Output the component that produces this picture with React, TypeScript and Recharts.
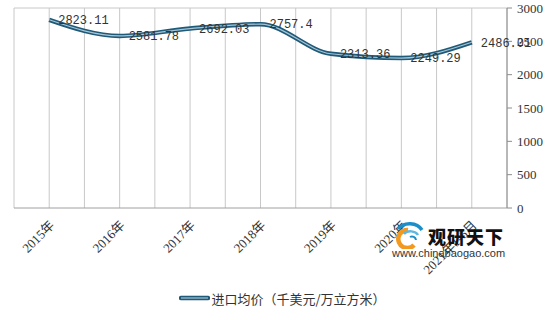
import { LineChart, Line, XAxis, YAxis, CartesianGrid, Legend, LabelList } from "recharts";

const years = ["2015年", "2016年", "2017年", "2018年", "2019年", "2020年", "2021年1-6月"];
const importPrice = [2823.11, 2581.78, 2692.03, 2757.4, 2313.36, 2249.29, 2486.01];
const yTicks = [0, 500, 1000, 1500, 2000, 2500, 3000];
const seriesName = "进口均价（千美元/万立方米）";

const data = years.map((year, i) => ({ year, price: importPrice[i] }));

const DARK = "#1f5a78";
const LIGHT = "#a7c5d6";
const SERIF = '"Liberation Serif", "Noto Sans CJK SC", serif';

function YearTick({ x, y, payload }: any) {
  return (
    <text
      transform={`translate(${x + 6},${y + 10}) rotate(-45)`}
      textAnchor="end"
      fontSize={13}
      fontFamily={SERIF}
      fill="#333"
    >
      {payload.value}
    </text>
  );
}

function LegendBox() {
  return (
    <div
      style={{
        display: "flex",
        justifyContent: "center",
        alignItems: "center",
        height: 24,
        fontFamily: '"Noto Sans CJK SC", sans-serif',
        fontSize: 13,
        color: "#333",
      }}
    >
      <svg width={31} height={8} style={{ marginRight: 1 }}>
        <line x1={2} y1={4} x2={29} y2={4} stroke={DARK} strokeWidth={4.5} strokeLinecap="round" />
        <line x1={2} y1={4} x2={29} y2={4} stroke={LIGHT} strokeWidth={1.2} />
      </svg>
      <span>{seriesName}</span>
    </div>
  );
}

// site watermark over the lower right of the plot
function Watermark() {
  return (
    <div style={{ position: "absolute", left: 392, top: 219, width: 120, pointerEvents: "none" }}>
      <svg width={30} height={28} style={{ position: "absolute", left: 2, top: 2 }}>
        <path d="M14 9 A9 9 0 1 0 20 24" fill="none" stroke="#f29a1f" strokeWidth={4.5} />
        <path d="M4 8 A14 12 0 0 1 28 9" fill="none" stroke="#1c8fc9" strokeWidth={3.5} />
        <path d="M10 13 A8 6 0 0 1 24 14" fill="none" stroke="#5fb7e0" strokeWidth={2.5} />
        <path d="M16 16 A4 4 0 0 1 22 19" fill="none" stroke="#1c8fc9" strokeWidth={2} />
      </svg>
      <div
        style={{
          position: "absolute",
          left: 36,
          top: 4,
          fontFamily: '"Noto Sans CJK SC", sans-serif',
          fontWeight: 900,
          fontSize: 18,
          letterSpacing: 1,
          color: "#111",
          whiteSpace: "nowrap",
        }}
      >
        观研天下
      </div>
      <div
        style={{
          position: "absolute",
          left: 0,
          top: 28,
          fontFamily: '"Liberation Sans", Arial, sans-serif',
          fontSize: 11,
          color: "#333",
          whiteSpace: "nowrap",
        }}
      >
        www.chinabaogao.com
      </div>
    </div>
  );
}

export default function App() {
  return (
    <div style={{ position: "absolute", left: 0, top: 0, width: 551, height: 320, background: "#fff" }}>
      <LineChart width={551} height={320} data={data} margin={{ top: 8, right: 0, left: 14, bottom: 10 }}>
        <CartesianGrid
          stroke="#c8c8c8"
          verticalCoordinatesGenerator={({ offset }: any) =>
            Array.from({ length: years.length * 2 + 1 }, (_, i) => offset.left + (i * offset.width) / (years.length * 2))
          }
          horizontalCoordinatesGenerator={({ offset }: any) => [offset.top]}
        />
        <XAxis
          dataKey="year"
          scale="band"
          interval={0}
          height={78}
          tickLine={false}
          axisLine={{ stroke: "#a0a0a0" }}
          tick={<YearTick />}
        />
        <YAxis
          orientation="right"
          width={44}
          domain={[0, 3000]}
          ticks={yTicks}
          tickSize={5}
          tickMargin={5}
          axisLine={{ stroke: "#8c8c8c" }}
          tickLine={{ stroke: "#8c8c8c" }}
          tick={{ fontSize: 13, fontFamily: SERIF, fill: "#333", textAnchor: "start" }}
        />
        <Legend verticalAlign="bottom" content={<LegendBox />} wrapperStyle={{ height: 24 }} />
        <Line
          type="monotone"
          dataKey="price"
          stroke={DARK}
          strokeWidth={4.5}
          dot={false}
          legendType="none"
          isAnimationActive={false}
        />
        <Line
          type="monotone"
          dataKey="price"
          name={seriesName}
          stroke={LIGHT}
          strokeWidth={1.2}
          dot={false}
          isAnimationActive={false}
        >
          <LabelList
            dataKey="price"
            position="right"
            offset={9}
            fontSize={12}
            fontFamily='"Liberation Mono", monospace'
            fill="#333"
          />
        </Line>
      </LineChart>
      <Watermark />
    </div>
  );
}
